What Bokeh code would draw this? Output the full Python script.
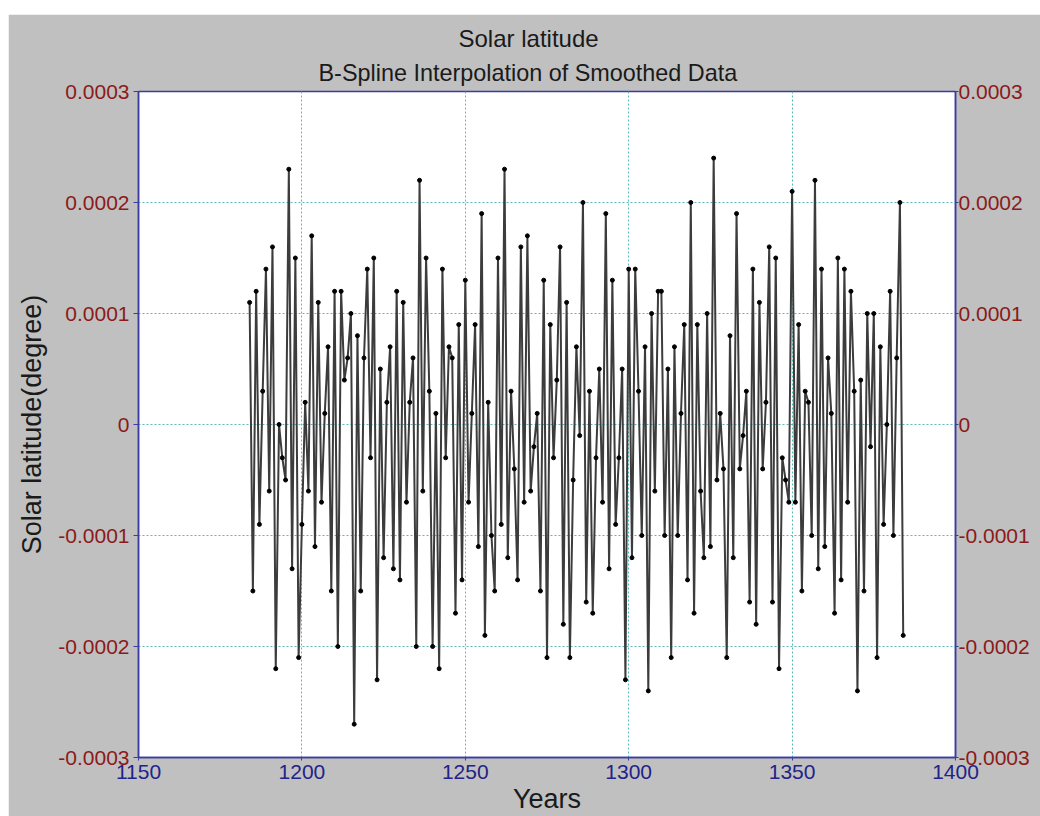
from bokeh.plotting import figure
from bokeh.models import (LinearAxis, FixedTicker, CustomJSTickFormatter, Title,
                          Spacer, Range1d)
from bokeh.layouts import column, row
from bokeh.embed import file_html
from bokeh.resources import INLINE

# ---- data -------------------------------------------------------------
years = list(range(1184, 1385))
latitude = [
    1.1e-4, -1.5e-4, 1.2e-4, -0.9e-4, 0.3e-4, 1.4e-4, -0.6e-4, 1.6e-4, -2.2e-4, 0.0e-4,
    -0.3e-4, -0.5e-4, 2.3e-4, -1.3e-4, 1.5e-4, -2.1e-4, -0.9e-4, 0.2e-4, -0.6e-4, 1.7e-4,
    -1.1e-4, 1.1e-4, -0.7e-4, 0.1e-4, 0.7e-4, -1.5e-4, 1.2e-4, -2.0e-4, 1.2e-4, 0.4e-4,
    0.6e-4, 1.0e-4, -2.7e-4, 0.8e-4, -1.5e-4, 0.6e-4, 1.4e-4, -0.3e-4, 1.5e-4, -2.3e-4,
    0.5e-4, -1.2e-4, 0.2e-4, 0.7e-4, -1.3e-4, 1.2e-4, -1.4e-4, 1.1e-4, -0.7e-4, 0.2e-4,
    0.6e-4, -2.0e-4, 2.2e-4, -0.6e-4, 1.5e-4, 0.3e-4, -2.0e-4, 0.1e-4, -2.2e-4, 1.4e-4,
    -0.3e-4, 0.7e-4, 0.6e-4, -1.7e-4, 0.9e-4, -1.4e-4, 1.3e-4, -0.7e-4, 0.1e-4, 0.9e-4,
    -1.1e-4, 1.9e-4, -1.9e-4, 0.2e-4, -1.0e-4, -1.5e-4, 1.5e-4, -0.9e-4, 2.3e-4, -1.2e-4,
    0.3e-4, -0.4e-4, -1.4e-4, 1.6e-4, -0.7e-4, 1.7e-4, -0.6e-4, -0.2e-4, 0.1e-4, -1.5e-4,
    1.3e-4, -2.1e-4, 0.9e-4, -0.3e-4, 0.4e-4, 1.6e-4, -1.8e-4, 1.1e-4, -2.1e-4, -0.5e-4,
    0.7e-4, -0.1e-4, 2.0e-4, -1.6e-4, 0.3e-4, -1.7e-4, -0.3e-4, 0.5e-4, -0.7e-4, 1.9e-4,
    -1.3e-4, 1.3e-4, -0.9e-4, -0.3e-4, 0.5e-4, -2.3e-4, 1.4e-4, -1.2e-4, 1.4e-4, 0.3e-4,
    -1.0e-4, 0.7e-4, -2.4e-4, 1.0e-4, -0.6e-4, 1.2e-4, 1.2e-4, -1.0e-4, 0.5e-4, -2.1e-4,
    0.7e-4, -1.0e-4, 0.1e-4, 0.9e-4, -1.4e-4, 2.0e-4, -1.7e-4, 0.9e-4, -0.6e-4, -1.2e-4,
    1.0e-4, -1.1e-4, 2.4e-4, -0.5e-4, 0.1e-4, -0.4e-4, -2.1e-4, 0.8e-4, -1.2e-4, 1.9e-4,
    -0.4e-4, -0.1e-4, 0.3e-4, -1.6e-4, 1.4e-4, -1.8e-4, 1.1e-4, -0.4e-4, 0.2e-4, 1.6e-4,
    -1.6e-4, 1.5e-4, -2.2e-4, -0.3e-4, -0.5e-4, -0.7e-4, 2.1e-4, -0.7e-4, 0.9e-4, -1.5e-4,
    0.3e-4, 0.2e-4, -1.0e-4, 2.2e-4, -1.3e-4, 1.4e-4, -1.1e-4, 0.6e-4, 0.1e-4, -1.7e-4,
    1.5e-4, -1.4e-4, 1.4e-4, -0.7e-4, 1.2e-4, 0.3e-4, -2.4e-4, 0.4e-4, -1.5e-4, 1.0e-4,
    -0.2e-4, 1.0e-4, -2.1e-4, 0.7e-4, -0.9e-4, 0.0e-4, 1.2e-4, -1.0e-4, 0.6e-4, 2.0e-4,
    -1.9e-4,
]
x_ticks = [1150, 1200, 1250, 1300, 1350, 1400]
y_ticks = [-0.0003, -0.0002, -0.0001, 0.0, 0.0001, 0.0002, 0.0003]

title_text = "Solar latitude"
subtitle_text = "B-Spline Interpolation of Smoothed Data"
x_label = "Years"
y_label = "Solar latitude(degree)"

# ---- style ------------------------------------------------------------
FONT = "Liberation Sans"
BG = "#c0c0c0"
FRAME = "#3b3ba0"
RED = "#8b1a1a"
NAVY = "#22228a"
GRID = "#5cb8b8"
TXT = "#1a1a1a"

p = figure(width=1032, height=802,
           x_range=Range1d(1150, 1400), y_range=Range1d(-0.0003, 0.0003),
           output_backend="svg", toolbar_location=None,
           min_border_left=130, min_border_right=85,
           min_border_top=77, min_border_bottom=59,
           title=None)

p.border_fill_color = BG
p.background_fill_color = "white"
p.outline_line_color = FRAME
p.outline_line_width = 1.5

# titles (left-aligned with offsets so they sit centred on the whole chart)
p.add_layout(Title(text=subtitle_text, align="left", text_font=FONT,
                   text_font_size="23.4px", text_font_style="normal",
                   text_color=TXT, standoff=12, offset=180), "above")
p.add_layout(Title(text=title_text, align="left", text_font=FONT,
                   text_font_size="24px", text_font_style="normal",
                   text_color=TXT, standoff=0, offset=320), "above")

fmt = CustomJSTickFormatter(code='return tick == 0 ? "0" : tick.toFixed(4);')

# bottom axis
xa = p.xaxis[0]
xa.ticker = FixedTicker(ticks=x_ticks)
xa.axis_line_color = FRAME
xa.axis_line_width = 1.5
xa.major_tick_line_color = FRAME
xa.major_tick_out = 3
xa.major_tick_in = 0
xa.minor_tick_line_color = None
xa.major_label_text_font = FONT
xa.major_label_text_font_size = "21px"
xa.major_label_text_color = NAVY
xa.major_label_standoff = 4
xa.axis_label = x_label
xa.axis_label_text_font = FONT
xa.axis_label_text_font_size = "27px"
xa.axis_label_text_font_style = "normal"
xa.axis_label_text_color = TXT
xa.axis_label_standoff = 2

# left axis
ya = p.yaxis[0]
ya.ticker = FixedTicker(ticks=y_ticks)
ya.formatter = fmt
ya.axis_line_color = FRAME
ya.axis_line_width = 1.5
ya.major_tick_line_color = FRAME
ya.major_tick_out = 5
ya.major_tick_in = 0
ya.minor_tick_line_color = None
ya.major_label_text_font = FONT
ya.major_label_text_font_size = "21px"
ya.major_label_text_color = RED
ya.major_label_standoff = 4
ya.axis_label = y_label
ya.axis_label_text_font = FONT
ya.axis_label_text_font_size = "27px"
ya.axis_label_text_font_style = "normal"
ya.axis_label_text_color = TXT
ya.axis_label_standoff = 8

# right axis
ra = LinearAxis(ticker=FixedTicker(ticks=y_ticks), formatter=fmt)
ra.axis_line_color = FRAME
ra.axis_line_width = 1.5
ra.major_tick_line_color = FRAME
ra.major_tick_out = 3
ra.major_tick_in = 0
ra.minor_tick_line_color = None
ra.major_label_text_font = FONT
ra.major_label_text_font_size = "21px"
ra.major_label_text_color = RED
ra.major_label_standoff = 0
p.add_layout(ra, "right")

# grid
for g in (p.xgrid[0], p.ygrid[0]):
    g.grid_line_color = GRID
    g.grid_line_dash = "2 2"
    g.grid_line_width = 1
p.xgrid[0].ticker = FixedTicker(ticks=x_ticks)
p.ygrid[0].ticker = FixedTicker(ticks=y_ticks)

# data
p.line(years, latitude, line_color="#3c3c3c", line_width=2)
p.scatter(years, latitude, size=4, fill_color="black", line_color="black")

layout = column(Spacer(height=14), row(Spacer(width=8), p))
open("out.html", "w").write(file_html(layout, INLINE))
